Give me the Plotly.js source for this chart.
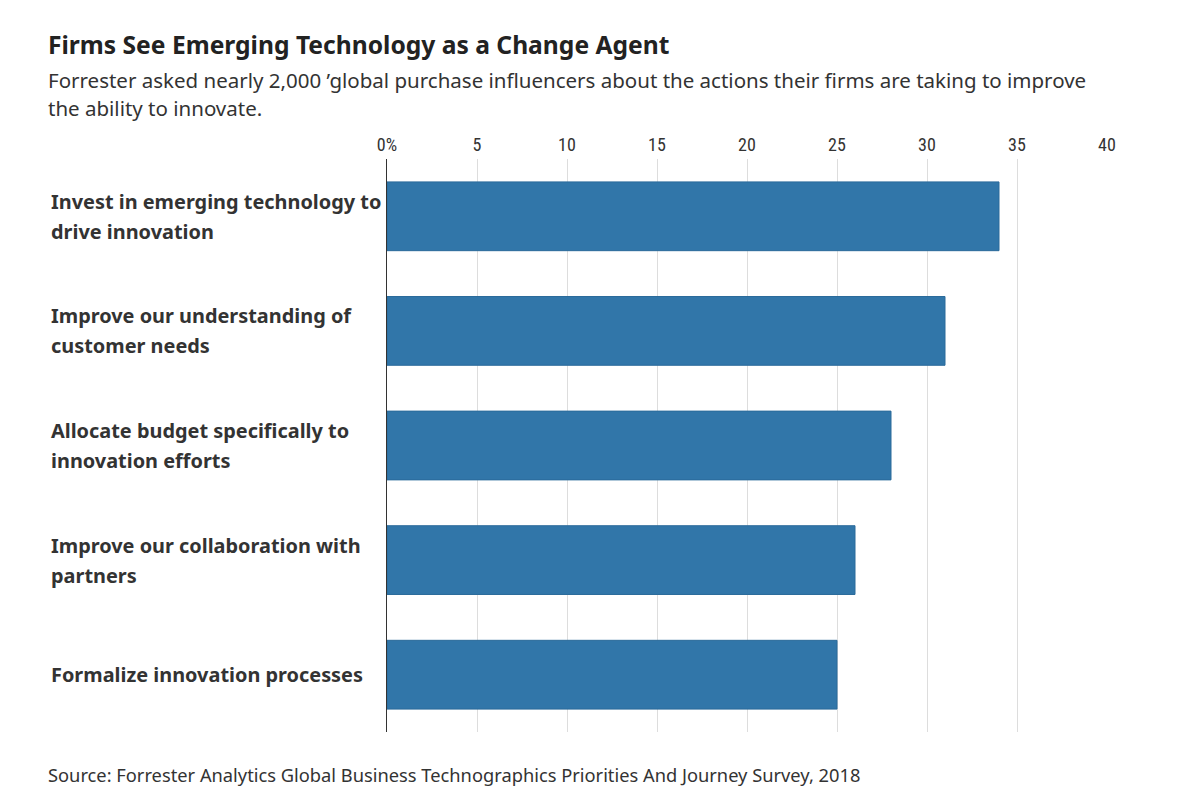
<!DOCTYPE html>
<html>
<head>
<meta charset="utf-8">
<script src="https://cdn.plot.ly/plotly-3.0.1.min.js"></script>
<style>html,body{margin:0;padding:0;background:#fff;}#chart{width:1200px;height:803px;}</style>
</head>
<body>
<div id="chart"></div>
<script>
const categories = [
  "Invest in emerging technology to\ndrive innovation",
  "Improve our understanding of\ncustomer needs",
  "Allocate budget specifically to\ninnovation efforts",
  "Improve our collaboration with\npartners",
  "Formalize innovation processes"
];
const values = [34, 31, 28, 26, 25];
const tickVals = [0, 5, 10, 15, 20, 25, 30, 35, 40];
const tickText = ["0%", "5", "10", "15", "20", "25", "30", "35", "40"];
const titleText = "Firms See Emerging Technology as a Change Agent";
const subtitleLines = [
  "Forrester asked nearly 2,000 \u2019global purchase influencers about the actions their firms are taking to improve",
  "the ability to innovate."
];
const sourceText = "Source: Forrester Analytics Global Business Technographics Priorities And Journey Survey, 2018";

const W = 1200, H = 803;
const L = 387, R = 1107, T = 159, B = 732;
const px = x => (x - L) / (R - L);
const py = y => (B - y) / (B - T);

const FONT = "'Noto Sans', Lato, sans-serif";
const NARROW = "'Liberation Sans Narrow', 'Roboto Condensed', Lato, sans-serif";

const trace = {
  type: "bar",
  orientation: "h",
  x: values,
  y: categories,
  marker: {color: "#3176a9", line: {color: "#2a6a9a", width: 1}},
  hoverinfo: "x+y"
};

const annotations = [];
annotations.push({xref: "paper", yref: "paper", x: px(46), y: py(45), xanchor: "left", yanchor: "middle",
  text: "<b>" + titleText + "</b>", showarrow: false, font: {family: FONT, size: 24.6, color: "#222"}});
subtitleLines.forEach((t, i) => {
  annotations.push({xref: "paper", yref: "paper", x: px(46), y: py(80 + i * 28), xanchor: "left", yanchor: "middle",
    text: t, showarrow: false, font: {family: FONT, size: 20.5, color: "#333"}});
});
annotations.push({xref: "paper", yref: "paper", x: px(46), y: py(774), xanchor: "left", yanchor: "middle",
  text: sourceText, showarrow: false, font: {family: FONT, size: 18.3, color: "#333"}});
categories.forEach(c => {
  const lines = c.split("\n");
  lines.forEach((ln, i) => {
    const shift = lines.length === 1 ? 0 : (i === 0 ? 15 : -15);
    annotations.push({xref: "paper", yref: "y", x: px(49), y: c, yshift: shift, xanchor: "left", yanchor: "middle",
      text: "<b>" + ln + "</b>", showarrow: false, font: {family: FONT, size: 19.9, color: "#333"}});
  });
});

const layout = {
  width: W, height: H,
  margin: {l: L, r: W - R, t: T, b: H - B, pad: 0},
  paper_bgcolor: "#fff", plot_bgcolor: "#fff",
  showlegend: false,
  bargap: 0.4,
  xaxis: {
    side: "top", range: [0, 40], tickvals: tickVals, ticktext: tickText,
    showgrid: true, gridcolor: "#dddddd", gridwidth: 1, zeroline: false,
    showline: false, ticks: "", ticklabelstandoff: 3,
    tickfont: {family: NARROW, size: 18, color: "#333"}, fixedrange: true
  },
  yaxis: {
    type: "category", autorange: "reversed", showticklabels: false,
    showgrid: false, zeroline: false, showline: true, linecolor: "#333", linewidth: 1.5,
    ticks: "", fixedrange: true
  },
  annotations: annotations
};

Plotly.newPlot("chart", [trace], layout, {displayModeBar: false, staticPlot: true});
</script>
</body>
</html>
